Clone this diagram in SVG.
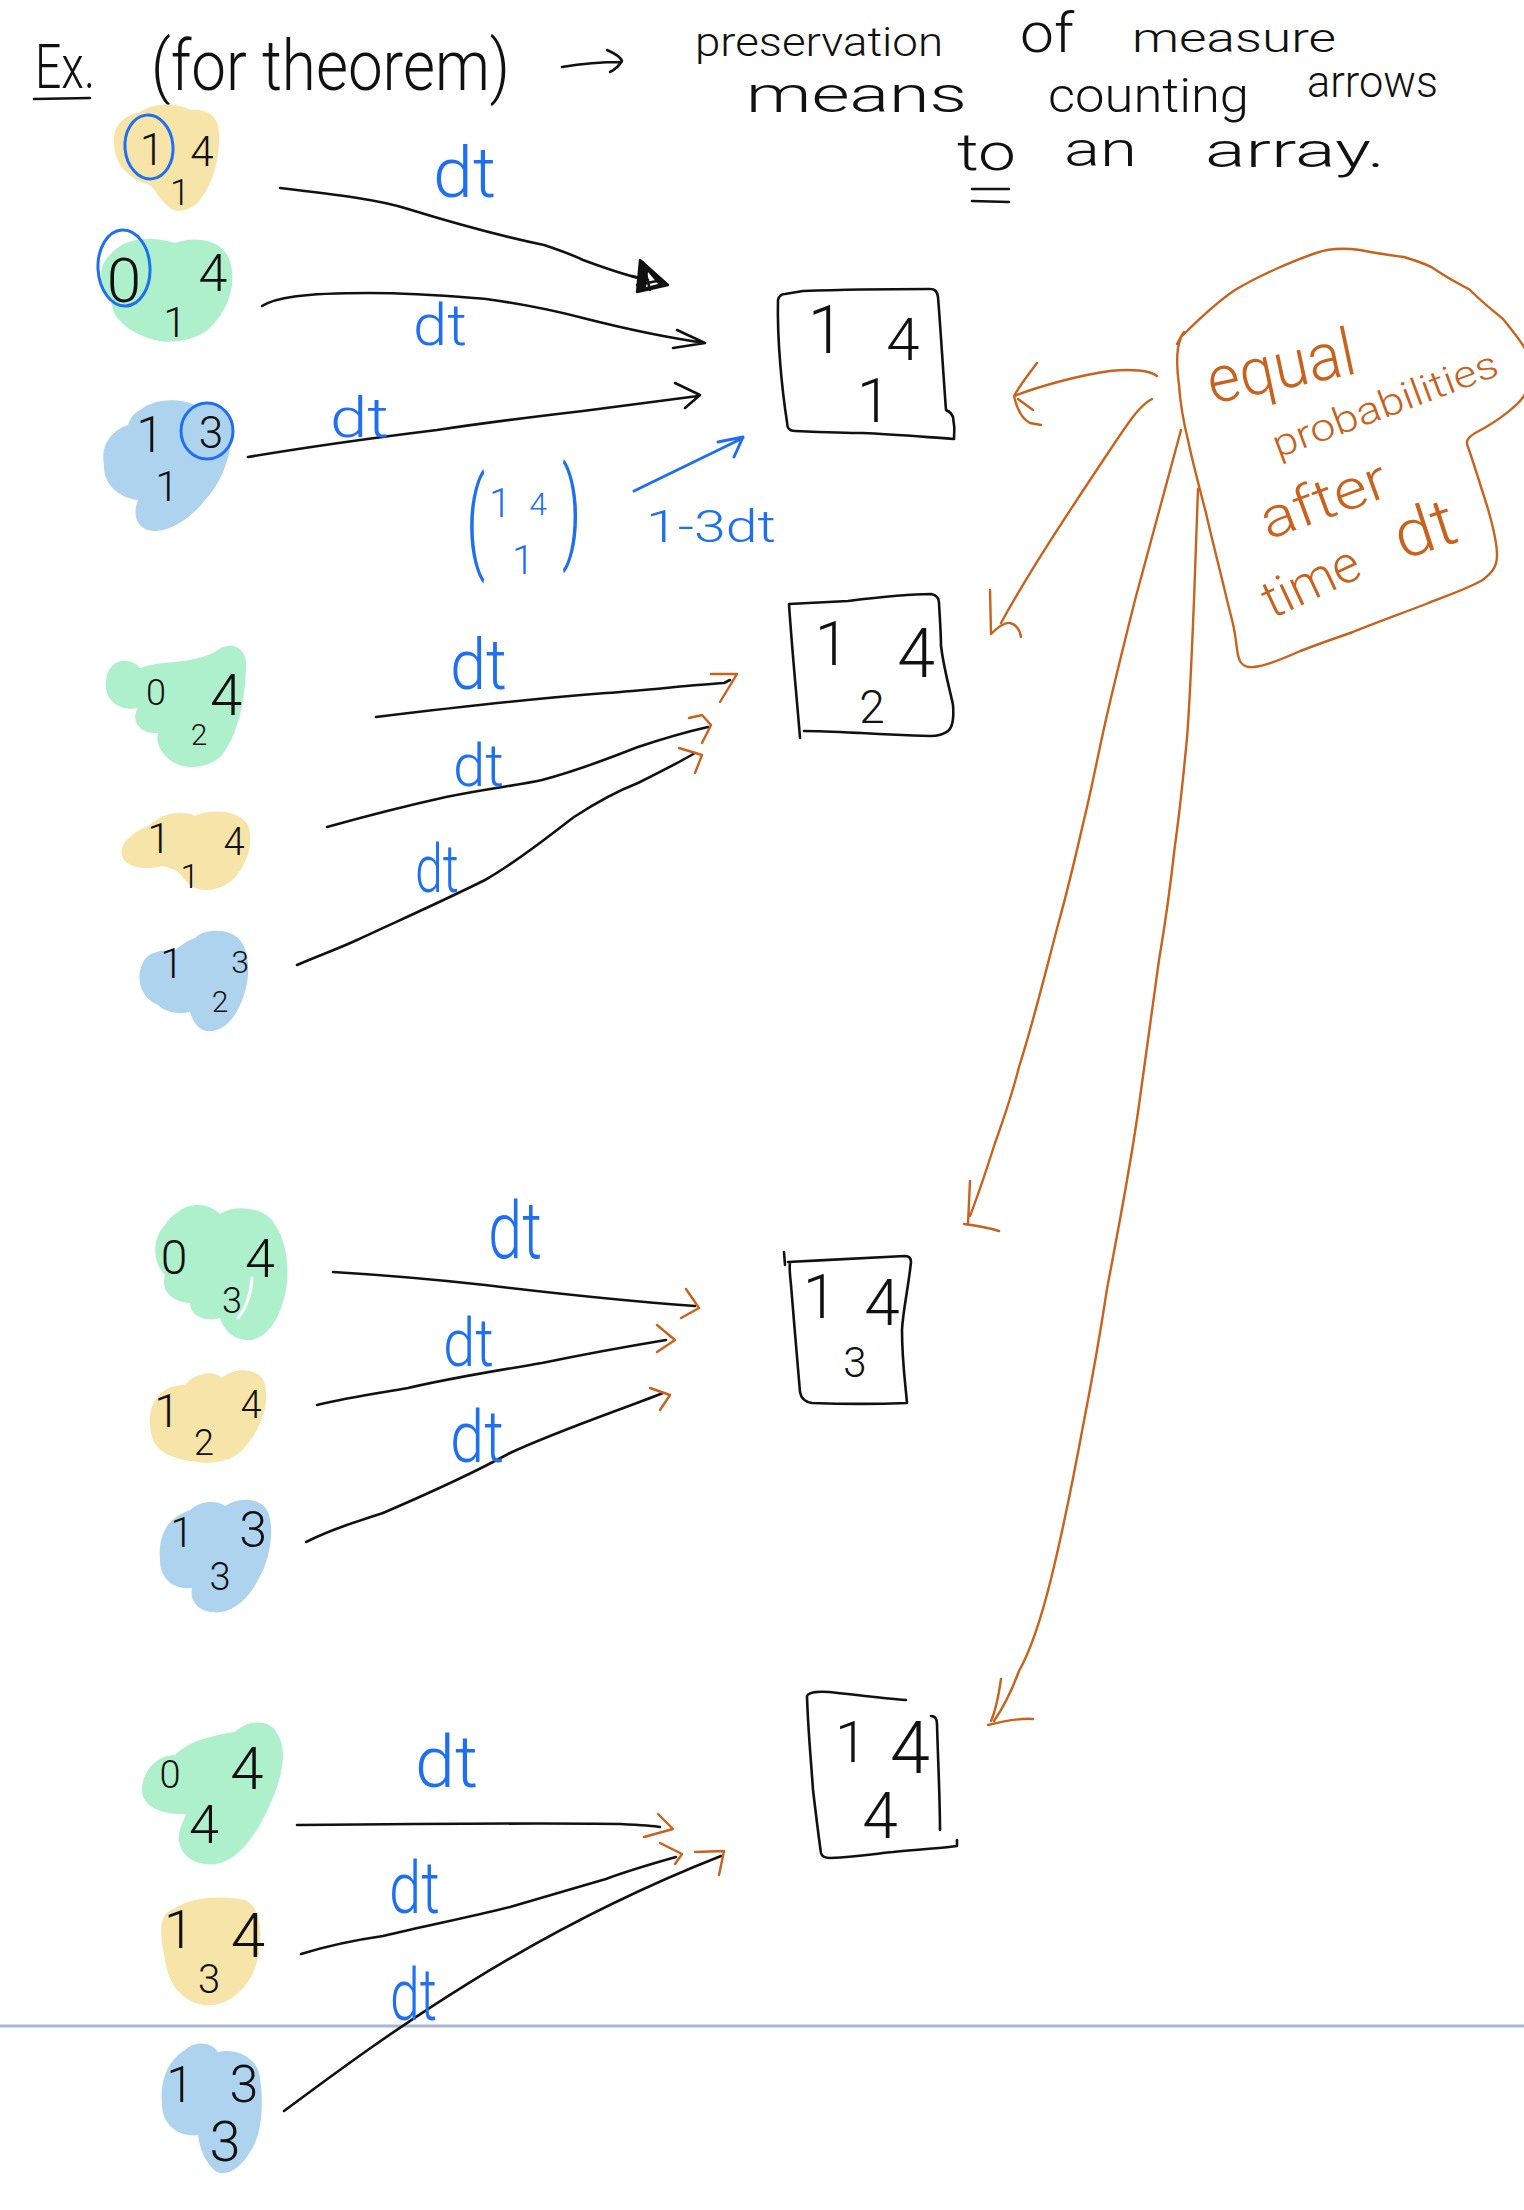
<svg xmlns="http://www.w3.org/2000/svg" width="1524" height="2210" viewBox="0 0 1524 2210">
<style>
.t{font-family:Roboto,"Liberation Sans",Arial,sans-serif;font-weight:300}
.k{fill:#111}
.bt{fill:#1F6FF2}
.ot{fill:#C8621C}
.ink{fill:none;stroke:#111;stroke-width:2.6;stroke-linecap:round;stroke-linejoin:round}
.org{fill:none;stroke:#C8621C;stroke-width:2.4;stroke-linecap:round;stroke-linejoin:round}
.blu{fill:none;stroke:#1F6FF2;stroke-width:3;stroke-linecap:round;stroke-linejoin:round}
.yel{fill:#F7E4A8}
.grn{fill:#AEF0CB}
.bl{fill:#AED3EE}
</style>
<rect x="0" y="0" width="1524" height="2210" fill="#ffffff"/>

<g id="title">
<text class="t k" x="35" y="88" font-size="62" textLength="60" lengthAdjust="spacingAndGlyphs">Ex.</text>
<path class="ink" d="M34,99 L90,98"/>
<text class="t k" x="151" y="90" font-size="70" textLength="359" lengthAdjust="spacingAndGlyphs">(for theorem)</text>
<path class="ink" d="M562,67 C580,64 600,62 621,62 M607,50 C616,54 621,58 622,61 C619,66 614,70 610,72"/>
<text class="t k" x="695" y="56" font-size="40" textLength="248" lengthAdjust="spacingAndGlyphs">preservation</text>
<text class="t k" x="1020" y="52" font-size="56" textLength="54" lengthAdjust="spacingAndGlyphs">of</text>
<text class="t k" x="1132" y="52" font-size="40" textLength="204" lengthAdjust="spacingAndGlyphs">measure</text>
<text class="t k" x="746" y="112" font-size="50" textLength="221" lengthAdjust="spacingAndGlyphs">means</text>
<text class="t k" x="1048" y="112" font-size="48" textLength="201" lengthAdjust="spacingAndGlyphs">counting</text>
<text class="t k" x="1307" y="97" font-size="44" textLength="131" lengthAdjust="spacingAndGlyphs">arrows</text>
<text class="t k" x="957" y="170" font-size="52" textLength="59" lengthAdjust="spacingAndGlyphs">to</text>
<path class="ink" d="M972,189 L1009,189 M972,201 L1009,202"/>
<text class="t k" x="1064" y="166" font-size="48" textLength="73" lengthAdjust="spacingAndGlyphs">an</text>
<text class="t k" x="1205" y="167" font-size="48" textLength="180" lengthAdjust="spacingAndGlyphs">array.</text>
</g>

<g id="node-y1">
<path class="yel" d="M140,112 C155,102 178,103 190,110 C205,108 220,115 219,135 C220,160 212,185 200,200 C192,210 178,214 170,208 C160,200 155,190 150,185 C130,180 115,165 114,145 C112,125 125,115 140,112 Z"/>
<text class="t k" x="152" y="165" font-size="44" text-anchor="middle">1</text>
<text class="t k" x="202" y="166" font-size="42" text-anchor="middle">4</text>
<text class="t k" x="180" y="205" font-size="36" text-anchor="middle">1</text>
<ellipse class="blu" cx="149" cy="147" rx="24" ry="32" transform="rotate(-5 149 147)"/>
</g>
<g id="node-g1">
<path class="grn" d="M115,250 C130,235 160,238 175,243 C195,235 225,240 230,262 C237,285 228,310 210,328 C195,342 165,345 148,338 C125,330 110,315 112,300 C98,290 95,265 115,250 Z"/>
<text class="t k" x="124" y="302" font-size="62" text-anchor="middle">0</text>
<text class="t k" x="213" y="291" font-size="52" text-anchor="middle">4</text>
<text class="t k" x="175" y="337" font-size="42" text-anchor="middle">1</text>
<ellipse class="blu" cx="124" cy="268" rx="26" ry="38" transform="rotate(-3 124 268)"/>
</g>
<g id="node-b1">
<path class="bl" d="M140,410 C155,398 180,398 195,405 C215,400 235,412 232,435 C230,460 220,485 205,500 C190,520 165,535 148,530 C135,526 133,512 138,500 C120,498 103,485 104,465 C100,445 112,430 128,425 C130,418 134,413 140,410 Z"/>
<text class="t k" x="150" y="452" font-size="50" text-anchor="middle">1</text>
<text class="t k" x="211" y="448" font-size="44" text-anchor="middle">3</text>
<text class="t k" x="167" y="501" font-size="42" text-anchor="middle">1</text>
<ellipse class="blu" cx="207" cy="431" rx="26" ry="28"/>
</g>

<g id="node-g2">
<path class="grn" d="M215,652 C228,640 248,645 246,668 C245,700 238,735 222,755 C210,768 185,772 170,760 C158,750 156,740 158,733 C140,735 130,720 138,708 C120,712 103,700 106,680 C108,660 128,655 140,668 C160,660 190,665 215,652 Z"/>
<text class="t k" x="156" y="705" font-size="36" text-anchor="middle">0</text>
<text class="t k" x="226" y="715" font-size="58" text-anchor="middle">4</text>
<text class="t k" x="199" y="745" font-size="30" text-anchor="middle">2</text>
</g>
<g id="node-y2">
<path class="yel" d="M150,825 C162,812 185,810 195,816 C210,808 240,810 248,825 C255,845 245,870 230,882 C215,893 195,893 185,880 C178,870 172,868 162,866 C140,872 118,865 122,848 C125,838 138,830 150,825 Z"/>
<text class="t k" x="159" y="853" font-size="42" text-anchor="middle">1</text>
<text class="t k" x="234" y="855" font-size="38" text-anchor="middle">4</text>
<text class="t k" x="190" y="888" font-size="34" text-anchor="middle">1</text>
</g>
<g id="node-b2">
<path class="bl" d="M195,938 C205,928 230,928 240,940 C252,955 250,985 240,1005 C232,1025 215,1035 203,1030 C195,1026 192,1018 190,1012 C178,1015 165,1012 158,1005 C140,998 136,978 142,965 C146,952 160,950 175,950 C182,945 188,940 195,938 Z"/>
<text class="t k" x="172" y="978" font-size="42" text-anchor="middle">1</text>
<text class="t k" x="240" y="973" font-size="32" text-anchor="middle">3</text>
<text class="t k" x="220" y="1012" font-size="30" text-anchor="middle">2</text>
</g>

<g id="node-g3">
<path class="grn" d="M178,1212 C192,1200 212,1205 220,1214 C235,1203 268,1208 275,1225 C290,1245 290,1285 282,1305 C276,1325 262,1342 245,1340 C232,1338 224,1330 220,1318 C205,1322 190,1316 190,1303 C172,1302 160,1290 165,1275 C152,1262 152,1238 165,1225 C168,1220 172,1215 178,1212 Z"/>
<path d="M252,1278 C251,1296 246,1308 238,1318" fill="none" stroke="#ffffff" stroke-width="3" stroke-linecap="round"/>
<text class="t k" x="174" y="1274" font-size="48" text-anchor="middle">0</text>
<text class="t k" x="260" y="1277" font-size="54" text-anchor="middle">4</text>
<text class="t k" x="232" y="1313" font-size="36" text-anchor="middle">3</text>
</g>
<g id="node-y3">
<path class="yel" d="M185,1385 C195,1372 215,1370 222,1378 C235,1366 262,1368 265,1385 C270,1405 260,1430 245,1447 C235,1460 215,1465 198,1462 C178,1460 160,1455 153,1440 C146,1420 150,1400 165,1390 C172,1386 178,1385 185,1385 Z"/>
<text class="t k" x="167" y="1427" font-size="46" text-anchor="middle">1</text>
<text class="t k" x="251" y="1418" font-size="38" text-anchor="middle">4</text>
<text class="t k" x="204" y="1455" font-size="36" text-anchor="middle">2</text>
</g>
<g id="node-b3">
<path class="bl" d="M190,1510 C200,1500 218,1500 225,1506 C240,1496 262,1498 268,1512 C275,1530 270,1560 258,1580 C248,1600 230,1615 212,1612 C195,1610 190,1598 192,1588 C175,1590 160,1580 160,1560 C158,1540 165,1525 175,1518 C180,1514 185,1512 190,1510 Z"/>
<text class="t k" x="182" y="1547" font-size="42" text-anchor="middle">1</text>
<text class="t k" x="253" y="1547" font-size="50" text-anchor="middle">3</text>
<text class="t k" x="220" y="1590" font-size="38" text-anchor="middle">3</text>
</g>

<g id="node-g4">
<path class="grn" d="M235,1732 C250,1718 272,1720 278,1735 C290,1755 278,1790 265,1815 C250,1845 230,1868 205,1864 C185,1862 175,1845 180,1830 C182,1822 185,1818 186,1814 C165,1815 142,1808 142,1790 C142,1770 158,1755 175,1755 C190,1740 215,1735 235,1732 Z"/>
<text class="t k" x="170" y="1788" font-size="38" text-anchor="middle">0</text>
<text class="t k" x="247" y="1789" font-size="60" text-anchor="middle">4</text>
<text class="t k" x="204" y="1843" font-size="54" text-anchor="middle">4</text>
</g>
<g id="node-y4">
<path class="yel" d="M175,1908 C195,1896 225,1896 245,1900 C258,1905 262,1925 260,1945 C258,1975 240,2000 215,2005 C190,2008 170,1990 166,1965 C162,1945 158,1925 165,1915 C168,1911 172,1909 175,1908 Z"/>
<text class="t k" x="179" y="1948" font-size="54" text-anchor="middle">1</text>
<text class="t k" x="248" y="1957" font-size="62" text-anchor="middle">4</text>
<text class="t k" x="209" y="1993" font-size="40" text-anchor="middle">3</text>
</g>
<g id="node-b4">
<path class="bl" d="M185,2050 C195,2040 212,2042 218,2052 C232,2048 258,2055 260,2078 C264,2105 262,2135 250,2152 C240,2170 222,2180 212,2168 C205,2160 200,2150 198,2135 C180,2138 162,2125 162,2105 C160,2085 165,2062 185,2050 Z"/>
<text class="t k" x="180" y="2102" font-size="50" text-anchor="middle">1</text>
<text class="t k" x="244" y="2102" font-size="52" text-anchor="middle">3</text>
<text class="t k" x="225" y="2161" font-size="56" text-anchor="middle">3</text>
</g>

<g id="box-1">
<path class="ink" d="M803,291 C830,290 880,289 930,289 C935,289 937,291 938,297 C940,320 943,370 946,410 C948,411 951,412 953,417 C954,422 955,430 954,439 C925,437 890,434 863,433 C850,433 820,432 795,431 C789,431 787,428 787,422 C782,390 777,340 778,300 C779,296 781,294 785,294 L803,291"/>
<text class="t k" x="826" y="353" font-size="66" text-anchor="middle">1</text>
<text class="t k" x="903" y="360" font-size="60" text-anchor="middle">4</text>
<text class="t k" x="874" y="422" font-size="62" text-anchor="middle">1</text>
</g>
<g id="box-2">
<path class="ink" d="M789,604 C810,603 830,602 848,601 C880,597 910,594 931,594 C937,595 939,598 939,603 C940,620 941,635 941,646 C944,670 950,690 953,705 C954,718 953,727 948,731 C943,735 938,736 930,736 C900,735 880,734 861,733 C840,732 820,731 804,731 M789,604 C792,650 797,700 800,738"/>
<text class="t k" x="832" y="665" font-size="62" text-anchor="middle">1</text>
<text class="t k" x="916" y="677" font-size="68" text-anchor="middle">4</text>
<text class="t k" x="872" y="723" font-size="46" text-anchor="middle">2</text>
</g>
<g id="box-3">
<path class="ink" d="M784,1252 L785,1265 M788,1262 C830,1260 880,1257 905,1256 C909,1256 911,1258 911,1262 C908,1290 903,1310 902,1330 C902,1360 905,1380 907,1403 C880,1404 840,1404 812,1403 C805,1402 801,1398 800,1392 C797,1360 794,1320 791,1285 C790,1275 789,1268 790,1263"/>
<text class="t k" x="820" y="1318" font-size="62" text-anchor="middle">1</text>
<text class="t k" x="882" y="1325" font-size="64" text-anchor="middle">4</text>
<text class="t k" x="855" y="1377" font-size="42" text-anchor="middle">3</text>
</g>
<g id="box-4">
<path class="ink" d="M906,1700 C880,1698 850,1694 829,1692 C815,1691 808,1693 807,1696 C808,1730 811,1760 813,1790 C816,1815 819,1840 821,1853 C822,1857 825,1858 830,1858 C860,1857 880,1853 893,1852 C920,1849 945,1848 957,1846 L957,1840 M931,1716 C935,1716 937,1719 937,1724 C938,1760 940,1800 940,1830"/>
<text class="t k" x="851" y="1762" font-size="58" text-anchor="middle">1</text>
<text class="t k" x="910" y="1773" font-size="72" text-anchor="middle">4</text>
<text class="t k" x="880" y="1838" font-size="64" text-anchor="middle">4</text>
</g>

<g id="stay-note">
<text class="t bt" transform="translate(466,558) scale(1,1.85)" font-size="60">(</text>
<text class="t bt" transform="translate(562,548) scale(1,1.85)" font-size="60">)</text>
<text class="t bt" x="500" y="517" font-size="40" text-anchor="middle">1</text>
<text class="t bt" x="538" y="515" font-size="32" text-anchor="middle">4</text>
<text class="t bt" x="523" y="574" font-size="40" text-anchor="middle">1</text>
<text class="t bt" x="646" y="542" font-size="44" textLength="130" lengthAdjust="spacingAndGlyphs">1-3dt</text>
</g>

<g id="bubble">
<path class="org" d="M1177,344 C1179,340 1182,335 1184,332 M1181,337 C1200,318 1220,300 1235,290 C1260,275 1295,260 1316,253 C1330,248 1345,248 1360,250 C1380,254 1395,256 1404,257 C1420,262 1428,265 1433,268 C1450,280 1462,285 1470,290 C1485,305 1495,312 1503,319 C1512,330 1520,340 1526,350 C1532,370 1530,385 1524,396 C1518,405 1500,420 1477,432 C1468,437 1465,441 1468,447 C1472,458 1482,490 1488,509 C1494,530 1497,545 1497,555 C1497,565 1494,572 1481,581 C1460,592 1440,598 1426,604 C1400,614 1370,625 1353,632 C1330,640 1310,647 1298,652 C1280,660 1265,666 1254,667 C1245,668 1240,665 1238,655 C1236,645 1236,635 1232,620 L1228,604 C1220,570 1212,540 1206,513 C1200,490 1192,460 1188,440 C1183,420 1180,400 1179,385 C1177,370 1177,355 1178,348 C1179,343 1180,340 1181,337"/>
<text class="t ot" transform="translate(1212,404) rotate(-12)" font-size="66" textLength="150" lengthAdjust="spacingAndGlyphs">equal</text>
<text class="t ot" transform="translate(1278,458) rotate(-20.5)" font-size="38" textLength="238" lengthAdjust="spacingAndGlyphs">probabilities</text>
<text class="t ot" transform="translate(1268,540) rotate(-20)" font-size="56" textLength="132" lengthAdjust="spacingAndGlyphs">after</text>
<text class="t ot" transform="translate(1272,619) rotate(-25)" font-size="52" textLength="102" lengthAdjust="spacingAndGlyphs">time</text>
<text class="t ot" transform="translate(1402,560) rotate(-18)" font-size="66" textLength="62" lengthAdjust="spacingAndGlyphs">dt</text>
</g>

<g id="connectors">
<path d="M0,2026 L1524,2026" fill="none" stroke="#A7B7D5" stroke-width="3"/>
<!-- group 1 -->
<path class="ink" d="M280,188 C340,195 380,200 408,209 C460,225 510,238 544,245 C565,252 575,256 583,260 C610,270 630,277 655,282"/>
<path d="M640,260 L668,285 L637,292 Z" fill="#111" stroke="#111" stroke-width="2.4" stroke-linejoin="round"/>
<path d="M648,272 L658,284 L646,287 Z" fill="#ffffff"/>
<path class="ink" d="M643,262 L650,290 M637,285 L662,280 M632,276 L648,280" stroke-width="2.4"/>
<path class="ink" d="M262,306 C275,298 300,293 369,293 C420,293 460,297 486,299 C530,305 560,312 583,318 C630,330 670,338 705,343 M677,330 L705,343 L673,348"/>
<path class="ink" d="M248,457 C320,445 380,437 437,430 C490,422 540,416 583,411 C630,405 670,400 698,396 M675,383 L700,395 L685,408"/>
<path class="blu" d="M634,491 L743,438 M718,442 L743,437 L734,457" stroke-width="3.4"/>
<text class="t bt" x="433" y="197" font-size="70" textLength="63" lengthAdjust="spacingAndGlyphs">dt</text>
<text class="t bt" x="413" y="345" font-size="58" textLength="54" lengthAdjust="spacingAndGlyphs">dt</text>
<text class="t bt" x="330" y="437" font-size="56" textLength="59" lengthAdjust="spacingAndGlyphs">dt</text>
<!-- group 2 -->
<path class="ink" d="M376,717 C450,708 540,698 606,693 C650,690 690,685 724,683 L730,680" stroke-width="2.2"/>
<path class="org" d="M711,674 L737,674 L720,702"/>
<path class="ink" d="M327,827 C370,815 410,805 446,797 C490,788 520,785 542,780 C580,770 610,758 638,747 C665,738 690,731 708,727" stroke-width="2.2"/>
<path class="org" d="M689,718 L702,715 L711,725 L702,743"/>
<path class="ink" d="M297,965 C320,955 340,948 357,940 C400,920 445,900 485,880 C520,860 550,835 574,817 C600,800 620,790 638,783 C660,772 680,762 695,753" stroke-width="2.2"/>
<path class="org" d="M679,748 L702,755 L695,773"/>
<text class="t bt" x="450" y="689" font-size="70" textLength="57" lengthAdjust="spacingAndGlyphs">dt</text>
<text class="t bt" x="453" y="786" font-size="60" textLength="51" lengthAdjust="spacingAndGlyphs">dt</text>
<text class="t bt" x="415" y="892" font-size="66" textLength="44" lengthAdjust="spacingAndGlyphs">dt</text>
<!-- group 3 -->
<path class="ink" d="M333,1272 C400,1276 440,1280 485,1285 C560,1294 640,1302 695,1306"/>
<path class="org" d="M686,1289 L699,1308 L681,1318"/>
<path class="ink" d="M317,1405 C350,1397 380,1393 408,1388 C450,1378 500,1370 542,1363 C590,1353 630,1346 666,1340"/>
<path class="org" d="M657,1325 L675,1340 L657,1352"/>
<path class="ink" d="M306,1542 C330,1530 355,1522 383,1513 C425,1495 470,1475 510,1453 C560,1430 620,1410 663,1393" stroke-width="2.2"/>
<path class="org" d="M650,1388 L670,1395 L660,1410"/>
<text class="t bt" x="488" y="1258" font-size="80" textLength="54" lengthAdjust="spacingAndGlyphs">dt</text>
<text class="t bt" x="443" y="1366" font-size="66" textLength="51" lengthAdjust="spacingAndGlyphs">dt</text>
<text class="t bt" x="450" y="1462" font-size="72" textLength="54" lengthAdjust="spacingAndGlyphs">dt</text>
<!-- group 4 -->
<path class="ink" d="M297,1825 C400,1824 550,1823 620,1824 C640,1825 655,1826 660,1827" stroke-width="3"/>
<path class="org" d="M658,1814 L673,1829 L644,1837"/>
<path class="ink" d="M301,1954 C330,1945 355,1940 383,1936 C430,1925 470,1917 510,1907 C545,1897 575,1888 606,1879 C630,1870 655,1863 676,1857" stroke-width="3"/>
<path class="org" d="M660,1843 L682,1854 L675,1864"/>
<path class="ink" d="M284,2111 C380,2040 520,1935 721,1856" stroke-width="2.2"/>
<path class="org" d="M695,1852 L724,1851 L719,1875"/>
<text class="t bt" x="415" y="1787" font-size="72" textLength="63" lengthAdjust="spacingAndGlyphs">dt</text>
<text class="t bt" x="389" y="1913" font-size="72" textLength="51" lengthAdjust="spacingAndGlyphs">dt</text>
<text class="t bt" x="390" y="2020" font-size="72" textLength="47" lengthAdjust="spacingAndGlyphs">dt</text>
<!-- orange arrows from bubble -->
<path class="org" d="M1157,376 C1150,370 1130,369 1110,371 C1080,375 1040,386 1014,396 M1037,363 C1028,375 1020,385 1014,396 C1016,405 1020,418 1030,423 L1041,425 M1018,399 L1033,410"/>
<path class="org" d="M1152,399 C1140,405 1130,420 1110,450 C1070,510 1030,570 1001,623 M990,590 L991,634 C997,628 1004,622 1010,623 C1017,625 1020,630 1021,637"/>
<path class="org" d="M1181,430 C1165,490 1148,550 1135,600 C1125,640 1115,680 1107,715 C1100,745 1094,777 1087,807 C1078,845 1070,882 1059,921 C1046,970 1034,1020 1019,1067 C1012,1095 1004,1118 995,1143 C988,1165 980,1190 970,1216 M970,1181 L968,1224 M964,1224 C980,1226 990,1228 999,1231"/>
<path class="org" d="M1198,489 C1196,540 1195,570 1194,600 C1192,650 1190,700 1187,738 C1183,780 1180,810 1175,845 C1170,890 1165,925 1159,960 C1152,1010 1146,1055 1139,1105 C1130,1170 1118,1230 1107,1289 C1100,1335 1092,1380 1083,1426 C1073,1480 1063,1530 1051,1579 C1042,1615 1032,1648 1019,1671 C1012,1690 1003,1708 994,1721 M1001,1679 C998,1700 995,1712 991,1721 M988,1725 C1000,1722 1020,1718 1033,1719"/>
</g>
</svg>
